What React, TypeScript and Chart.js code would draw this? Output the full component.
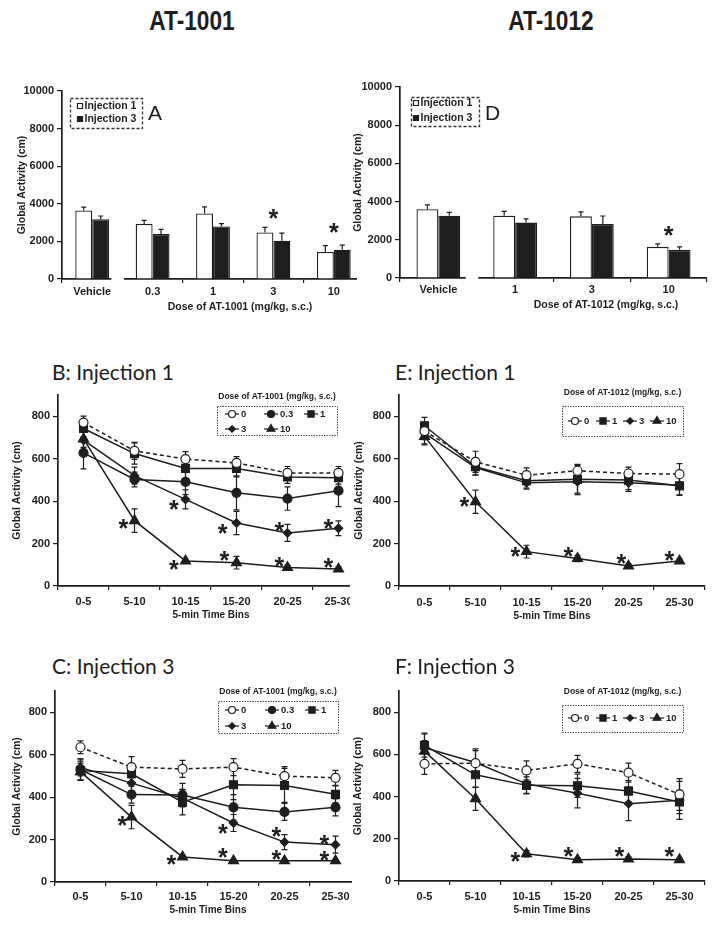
import React, { useEffect, useRef } from 'react';
import { Chart, registerables } from 'chart.js';

Chart.register(...registerables);

const FONT = "'Liberation Sans', Arial, Helvetica, sans-serif";
const INK = '#1e1e1e';

// ---------------- data ----------------
const doses1001 = ['Vehicle', '0.3', '1', '3', '10'];
const doses1012 = ['Vehicle', '1', '3', '10'];
const timeBins = ['0-5', '5-10', '10-15', '15-20', '20-25', '25-30'];
const barYTicks = [0, 2000, 4000, 6000, 8000, 10000];
const lineYTicks = [0, 200, 400, 600, 800];

// Panel A (AT-1001 total activity)
const aInj1 = [3650, 2930, 3490, 2470, 1440];
const aInj1Err = [175, 190, 350, 280, 330];
const aInj3 = [3175, 2390, 2790, 2035, 1560];
const aInj3Err = [175, 245, 160, 400, 245];
const aStars = [[3, 3550, 0], [4, 2800, 0]];

// Panel D (AT-1012 total activity)
const dInj1 = [3600, 3263, 3228, 1630];
const dInj1Err = [225, 230, 230, 160];
const dInj3 = [3263, 2900, 2825, 1474];
const dInj3Err = [175, 200, 420, 160];
const dStars = [[3, 2560, 0]];

// Panel B (AT-1001, injection 1)
const b0 = [770, 637, 598, 580, 533, 533];
const b0Err = [30, 40, 35, 30, 30, 30];
const b03 = [627, 502, 491, 439, 412, 449];
const b03Err = [75, 35, 60, 80, 55, 75];
const b1 = [742, 624, 554, 554, 514, 510];
const b1Err = [40, 50, 50, 40, 30, 30];
const b3 = [687, 520, 408, 297, 250, 272];
const b3Err = [50, 40, 45, 55, 40, 35];
const b10 = [693, 308, 118, 110, 87, 80];
const b10Err = [40, 55, 10, 30, 10, 10];
const bStars = [[2, 389, -0.23], [1, 298, -0.22], [3, 276, -0.27], [4, 287, -0.16], [5, 298, -0.2],
  [2, 107, -0.23], [3, 149, -0.24], [4, 122, -0.16], [5, 115, -0.2]];

// Panel C (AT-1001, injection 3)
const c0 = [635, 541, 533, 541, 499, 491];
const c0Err = [30, 50, 40, 40, 45, 35];
const c03 = [530, 412, 410, 352, 330, 352];
const c03Err = [50, 40, 55, 60, 40, 40];
const c1 = [525, 510, 376, 458, 455, 413];
const c1Err = [45, 45, 60, 70, 80, 40];
const c3 = [540, 466, 395, 278, 188, 176];
const c3Err = [40, 35, 40, 40, 35, 40];
const c10 = [520, 306, 118, 100, 100, 100];
const c10Err = [40, 55, 10, 5, 5, 5];
const cStars = [[1, 293, -0.18], [2, 113, -0.22], [3, 146, -0.21], [4, 136, -0.16], [5, 130, -0.22],
  [3, 259, -0.21], [4, 243, -0.16], [5, 204, -0.22]];

// Panel E (AT-1012, injection 1)
const e0 = [730, 585, 522, 543, 530, 527];
const e0Err = [40, 50, 35, 30, 30, 50];
const e1 = [755, 562, 496, 503, 499, 472];
const e1Err = [40, 40, 35, 65, 45, 45];
const e3 = [720, 558, 486, 491, 486, 475];
const e3Err = [50, 35, 30, 60, 40, 45];
const e10 = [705, 397, 162, 130, 94, 118];
const e10Err = [40, 55, 30, 15, 10, 10];
const eStars = [[1, 402, -0.22], [2, 169, -0.22], [3, 169, -0.18], [4, 133, -0.14], [5, 150, -0.2]];

// Panel F (AT-1012, injection 3)
const f0 = [555, 558, 524, 555, 513, 410];
const f0Err = [50, 60, 45, 40, 45, 75];
const f1 = [642, 503, 453, 451, 426, 374];
const f1Err = [55, 60, 40, 55, 50, 55];
const f3 = [631, 561, 460, 416, 366, 382];
const f3Err = [70, 65, 45, 70, 80, 90];
const f10 = [615, 390, 129, 101, 104, 101];
const f10Err = [50, 55, 15, 10, 10, 8];
const fStars = [[2, 121, -0.22], [3, 145, -0.18], [4, 145, -0.18], [5, 145, -0.2]];

// ---------------- styles ----------------
const STYLE: Record<string, any> = {
  '0': { ps: 'circle', r: 4.5, fill: '#ffffff', dash: [4, 3] },
  '0.3': { ps: 'circle', r: 4.5, fill: INK },
  '1': { ps: 'rect', r: 5.6, fill: INK },
  '3': { ps: 'rectRot', r: 4.2, fill: INK },
  '10': { ps: 'triangle', r: 5.8, fill: INK },
};

function lineDataset(label: string, data: number[], errors: number[]) {
  const st = STYLE[label];
  return {
    label, data, errors,
    borderColor: INK, borderWidth: 1.5, borderDash: st.dash || [],
    pointStyle: st.ps, pointRadius: st.r, pointHoverRadius: st.r,
    pointBackgroundColor: st.fill, pointBorderColor: INK, pointBorderWidth: 1.2,
    tension: 0, fill: false,
  };
}

function drawMarker(ctx: CanvasRenderingContext2D, ps: string, x: number, y: number, r: number, fill: string) {
  ctx.beginPath();
  if (ps === 'circle') ctx.arc(x, y, r, 0, Math.PI * 2);
  else if (ps === 'rect') { const s = r * Math.SQRT1_2; ctx.rect(x - s, y - s, 2 * s, 2 * s); }
  else if (ps === 'rectRot') { ctx.moveTo(x, y - r); ctx.lineTo(x + r, y); ctx.lineTo(x, y + r); ctx.lineTo(x - r, y); ctx.closePath(); }
  else if (ps === 'triangle') {
    ctx.moveTo(x, y - r);
    ctx.lineTo(x + r * Math.sin(2 * Math.PI / 3), y - r * Math.cos(2 * Math.PI / 3));
    ctx.lineTo(x + r * Math.sin(4 * Math.PI / 3), y - r * Math.cos(4 * Math.PI / 3));
    ctx.closePath();
  }
  ctx.fillStyle = fill;
  ctx.fill();
  ctx.stroke();
}

// ---------------- plugins ----------------
function drawErrors(chart: any) {
  const ctx = chart.ctx;
  const ys = chart.scales.y;
  chart.data.datasets.forEach((ds: any, di: number) => {
    if (!ds.errors) return;
    const meta = chart.getDatasetMeta(di);
    ctx.save();
    ctx.strokeStyle = INK;
    ctx.lineWidth = 1.2;
    ctx.setLineDash([]);
    const cap = ds.upOnly ? 2.5 : 3;
    meta.data.forEach((el: any, i: number) => {
      const v = ds.data[i];
      const e = ds.errors[i];
      const x = el.x;
      const yT = ys.getPixelForValue(v + e);
      const yB = ds.upOnly ? ys.getPixelForValue(v) : ys.getPixelForValue(v - e);
      ctx.beginPath();
      ctx.moveTo(x, yT); ctx.lineTo(x, yB);
      ctx.moveTo(x - cap, yT); ctx.lineTo(x + cap, yT);
      if (!ds.upOnly) { ctx.moveTo(x - cap, yB); ctx.lineTo(x + cap, yB); }
      ctx.stroke();
    });
    ctx.restore();
  });
}

const errorBarPlugin = {
  id: 'errorBars',
  beforeDatasetsDraw(chart: any) { if (chart.config.type === 'line') drawErrors(chart); },
  afterDatasetsDraw(chart: any) { if (chart.config.type === 'bar') drawErrors(chart); },
};

const starPlugin = {
  id: 'stars',
  afterDatasetsDraw(chart: any, _a: any, opts: any) {
    if (!opts || !opts.items) return;
    const ctx = chart.ctx;
    const xs = chart.scales.x; const ys = chart.scales.y;
    const cw = xs.width / chart.data.labels.length;
    const size = opts.size || 20;
    ctx.save();
    ctx.fillStyle = INK;
    ctx.font = `bold ${size}px ${FONT}`;
    ctx.textAlign = 'center';
    ctx.textBaseline = 'alphabetic';
    opts.items.forEach((s: number[]) => {
      const x = xs.getPixelForValue(s[0]) + s[2] * cw;
      const y = ys.getPixelForValue(s[1]);
      ctx.fillText('*', x, y + 0.58 * size);
    });
    ctx.restore();
  },
};

const legendPlugin = {
  id: 'panelLegend',
  afterDraw(chart: any, _a: any, opts: any) {
    if (!opts || !opts.box) return;
    const ctx = chart.ctx;
    const [ox, oy] = opts.origin;
    const [x1, y1, x2, y2] = opts.box;
    ctx.save();
    ctx.strokeStyle = '#333';
    ctx.lineWidth = opts.boxWidth || 1;
    ctx.setLineDash(opts.boxDash || [1.5, 1.5]);
    ctx.strokeRect(Math.round(x1 - ox) + 0.5, Math.round(y1 - oy) + 0.5, x2 - x1, y2 - y1);
    ctx.setLineDash([]);
    ctx.fillStyle = INK;
    if (opts.title) {
      ctx.font = `bold ${opts.titleSize}px ${FONT}`;
      ctx.textAlign = 'center';
      ctx.textBaseline = 'middle';
      ctx.fillText(opts.title, (x1 + x2) / 2 - ox, opts.titleY - oy);
    }
    ctx.font = `bold ${opts.itemSize}px ${FONT}`;
    ctx.textAlign = 'left';
    ctx.textBaseline = 'middle';
    chart.data.datasets.forEach((ds: any, i: number) => {
      const pos = opts.items[i];
      if (!pos) return;
      const x = pos[0] - ox; const y = pos[1] - oy;
      ctx.strokeStyle = INK;
      ctx.lineWidth = 1.2;
      if (opts.kind === 'bar') {
        ctx.beginPath();
        ctx.rect(x - 2.5, y - 2.5, 5, 5);
        ctx.fillStyle = ds.backgroundColor;
        ctx.fill(); ctx.stroke();
        ctx.fillStyle = INK;
        ctx.fillText(ds.label, x + 4.5, y + 0.5);
      } else {
        ctx.beginPath(); ctx.moveTo(x, y); ctx.lineTo(x + 14, y); ctx.stroke();
        drawMarker(ctx, ds.pointStyle, x + 7, y, ds.pointRadius * 0.78, ds.pointBackgroundColor);
        ctx.fillStyle = INK;
        ctx.fillText(ds.label, x + 16, y + 0.5);
      }
    });
    ctx.restore();
  },
};

const axisBreakPlugin = {
  id: 'axisBreak',
  afterDraw(chart: any, _a: any, opts: any) {
    if (!opts || !opts.on) return;
    const ctx = chart.ctx; const xs = chart.scales.x;
    const bx = (xs.getPixelForValue(0) + xs.getPixelForValue(1)) / 2;
    const yb = chart.chartArea.bottom;
    ctx.save();
    ctx.fillStyle = '#ffffff';
    ctx.fillRect(bx - 11, yb - 3, 12.5, 10);
    ctx.restore();
  },
};

// ---------------- config builder ----------------
type Geo = {
  wl: number; wt: number; ww: number; wh: number; cw: number; ch: number;
  pl: number; pt: number; pr: number; pb: number;
  xLabelY: number; yTitleX: number; xTitleY?: number;
};

function buildConfig(kind: 'bar' | 'line', g: Geo, labels: string[], datasets: any[], yMax: number,
  yTicks: number[], stars: number[][], legend: any, xTitle?: string) {
  const tickFont = { family: FONT, size: 11, weight: 'bold' as const };
  const padTop = g.pt - g.wt;
  const padRight = g.cw - (g.pr - g.wl);
  const yW = g.pl - g.wl;
  const xH = g.ch - (g.pb - g.wt);
  const xTickPad = Math.max(0, g.xLabelY - g.pb - 4 - 6.6);
  const yTitlePad = Math.max(0, g.yTitleX - g.wl - 6.3);
  const xTitlePad = g.xTitleY ? Math.max(0, g.ch - (g.xTitleY - g.wt) - 6) : 0;
  return {
    type: kind,
    data: { labels, datasets },
    options: {
      responsive: false,
      animation: false,
      events: [],
      layout: { padding: { left: 0, top: padTop, right: padRight, bottom: 0 } },
      plugins: {
        legend: { display: false },
        tooltip: { enabled: false },
        stars: { items: stars, size: 25 },
        panelLegend: legend,
        axisBreak: { on: kind === 'bar' },
      },
      scales: {
        x: {
          type: 'category',
          offset: true,
          grid: { display: true, offset: true, drawOnChartArea: false, drawTicks: true, tickLength: 4, color: INK, lineWidth: 1.2 },
          border: { display: true, color: INK, width: 1.7 },
          ticks: { font: tickFont, color: INK, padding: xTickPad, maxRotation: 0, autoSkip: false },
          title: xTitle ? { display: true, text: xTitle, color: INK, font: { family: FONT, size: 10, weight: 'bold' }, padding: { top: 0, bottom: xTitlePad } } : { display: false },
          afterFit: (s: any) => { s.height = xH; },
        },
        y: {
          min: 0, max: yMax,
          afterBuildTicks: (s: any) => { s.ticks = yTicks.map((v) => ({ value: v })); },
          grid: { display: true, drawOnChartArea: false, drawTicks: true, tickLength: 5, color: INK, lineWidth: 1.2 },
          border: { display: true, color: INK, width: 1.7 },
          ticks: { font: tickFont, color: INK, padding: 3, callback: (v: any) => String(v) },
          title: { display: true, text: 'Global Activity (cm)', color: INK, font: { family: FONT, size: 10.5, weight: 'bold' }, padding: { top: yTitlePad, bottom: 0 } },
          afterFit: (s: any) => { s.width = yW; },
        },
      },
    },
    plugins: [errorBarPlugin, starPlugin, legendPlugin, axisBreakPlugin],
  };
}

function barDatasets(inj1: number[], inj1Err: number[], inj3: number[], inj3Err: number[], catPct: number) {
  return [
    { label: 'Injection 1', data: inj1, errors: inj1Err, upOnly: true, backgroundColor: '#ffffff', borderColor: INK, borderWidth: 1.3, categoryPercentage: catPct, barPercentage: 1 },
    { label: 'Injection 3', data: inj3, errors: inj3Err, upOnly: true, backgroundColor: INK, borderColor: INK, borderWidth: 1.3, categoryPercentage: catPct, barPercentage: 1 },
  ];
}

// ---------------- geometry ----------------
const geoA: Geo = { wl: 0, wt: 75, ww: 357, wh: 245, cw: 380, ch: 245, pl: 62, pt: 91, pr: 364, pb: 279, xLabelY: 292, yTitleX: 22 };
const geoD: Geo = { wl: 350, wt: 75, ww: 364, wh: 245, cw: 364, ch: 245, pl: 400, pt: 87, pr: 707, pb: 278, xLabelY: 290, yTitleX: 358 };
const geoB: Geo = { wl: 0, wt: 385, ww: 350, wh: 240, cw: 380, ch: 240, pl: 58, pt: 395, pr: 364, pb: 586, xLabelY: 602, yTitleX: 17, xTitleY: 615 };
const geoE: Geo = { wl: 350, wt: 385, ww: 364, wh: 240, cw: 364, ch: 240, pl: 399, pt: 395, pr: 705, pb: 586, xLabelY: 603, yTitleX: 359, xTitleY: 616 };
const geoC: Geo = { wl: 0, wt: 680, ww: 352, wh: 246, cw: 380, ch: 246, pl: 55, pt: 691, pr: 361, pb: 882, xLabelY: 897, yTitleX: 17, xTitleY: 910 };
const geoF: Geo = { wl: 350, wt: 680, ww: 364, wh: 246, cw: 364, ch: 246, pl: 399, pt: 691, pr: 705, pb: 881, xLabelY: 897, yTitleX: 358, xTitleY: 910 };

function lineLegend(g: Geo, title: string, box: number[], titleY: number, items: number[][]) {
  return { origin: [g.wl, g.wt], title, titleY, box, items, titleSize: 8.5, itemSize: 9.5, boxDash: [1.3, 1.3], boxWidth: 1 };
}
function barLegend(g: Geo, box: number[], items: number[][]) {
  return { origin: [g.wl, g.wt], kind: 'bar', box, items, itemSize: 10.5, boxDash: [3, 2], boxWidth: 1.3 };
}

const configs = {
  A: () => buildConfig('bar', geoA, doses1001, barDatasets(aInj1, aInj1Err, aInj3, aInj3Err, 0.56), 10000, barYTicks, aStars,
    barLegend(geoA, [70, 98, 142, 128], [[80, 106], [80, 119]])),
  D: () => buildConfig('bar', geoD, doses1012, barDatasets(dInj1, dInj1Err, dInj3, dInj3Err, 0.57), 10000, barYTicks, dStars,
    barLegend(geoD, [411, 97, 479, 126], [[416, 103], [416, 118]])),
  B: () => buildConfig('line', geoB, timeBins, [
    lineDataset('0', b0, b0Err), lineDataset('0.3', b03, b03Err), lineDataset('1', b1, b1Err),
    lineDataset('3', b3, b3Err), lineDataset('10', b10, b10Err)], 900, lineYTicks, bStars,
    lineLegend(geoB, 'Dose of AT-1001 (mg/kg, s.c.)', [217, 406, 337, 435], 397,
      [[225, 414], [264, 414], [304, 414], [225, 429], [264, 429]]), '5-min Time Bins'),
  C: () => buildConfig('line', geoC, timeBins, [
    lineDataset('0', c0, c0Err), lineDataset('0.3', c03, c03Err), lineDataset('1', c1, c1Err),
    lineDataset('3', c3, c3Err), lineDataset('10', c10, c10Err)], 900, lineYTicks, cStars,
    lineLegend(geoC, 'Dose of AT-1001 (mg/kg, s.c.)', [218, 701, 338, 733], 692,
      [[225, 710], [265, 710], [305, 710], [225, 726], [265, 726]]), '5-min Time Bins'),
  E: () => buildConfig('line', geoE, timeBins, [
    lineDataset('0', e0, e0Err), lineDataset('1', e1, e1Err), lineDataset('3', e3, e3Err),
    lineDataset('10', e10, e10Err)], 900, lineYTicks, eStars,
    lineLegend(geoE, 'Dose of AT-1012 (mg/kg, s.c.)', [562, 406, 683, 436], 393,
      [[568, 421], [596, 421], [623, 421], [650, 421]]), '5-min Time Bins'),
  F: () => buildConfig('line', geoF, timeBins, [
    lineDataset('0', f0, f0Err), lineDataset('1', f1, f1Err), lineDataset('3', f3, f3Err),
    lineDataset('10', f10, f10Err)], 900, lineYTicks, fStars,
    lineLegend(geoF, 'Dose of AT-1012 (mg/kg, s.c.)', [562, 705, 683, 732], 692,
      [[568, 718], [596, 718], [623, 718], [650, 718]]), '5-min Time Bins'),
};

function ChartPanel({ g, make }: { g: Geo; make: () => any }) {
  const ref = useRef<HTMLCanvasElement | null>(null);
  useEffect(() => {
    if (!ref.current) return;
    const chart = new Chart(ref.current, make());
    return () => chart.destroy();
  }, []);
  return (
    <div style={{ position: 'absolute', left: g.wl, top: g.wt, width: g.ww, height: g.wh, overflow: 'hidden' }}>
      <canvas ref={ref} width={g.cw} height={g.ch} style={{ display: 'block', width: g.cw, height: g.ch }} />
    </div>
  );
}

function Txt({ left, top, width, align, font, extra, children }: any) {
  return (
    <div style={{ position: 'absolute', left, top, width, textAlign: align || 'left', font, lineHeight: 1, whiteSpace: 'nowrap', color: INK, ...(extra || {}) }}>
      {children}
    </div>
  );
}

const topTitleStyle = { transform: 'scaleX(0.84)', transformOrigin: 'center' };

export default function App() {
  return (
    <div style={{ position: 'absolute', left: 0, top: 0, width: 714, height: 926, background: '#fff', overflow: 'hidden' }}>
      <Txt left={92} top={8} width={200} align="center" font={`bold 27px ${FONT}`} extra={topTitleStyle}>AT-1001</Txt>
      <Txt left={451} top={8} width={200} align="center" font={`bold 27px ${FONT}`} extra={topTitleStyle}>AT-1012</Txt>

      <ChartPanel g={geoA} make={configs.A} />
      <ChartPanel g={geoD} make={configs.D} />
      <ChartPanel g={geoB} make={configs.B} />
      <ChartPanel g={geoE} make={configs.E} />
      <ChartPanel g={geoC} make={configs.C} />
      <ChartPanel g={geoF} make={configs.F} />

      <Txt left={148} top={102} font={`21px ${FONT}`}>A</Txt>
      <Txt left={485} top={102} font={`21px ${FONT}`}>D</Txt>
      <Txt left={140} top={301} width={200} align="center" font={`bold 10.5px ${FONT}`}>Dose of AT-1001 (mg/kg, s.c.)</Txt>
      <Txt left={506} top={299} width={200} align="center" font={`bold 10.5px ${FONT}`}>Dose of AT-1012 (mg/kg, s.c.)</Txt>

      <Txt left={52} top={361} font="21px Lato, 'Noto Sans', sans-serif">B: Injection 1</Txt>
      <Txt left={395} top={361} font="21px Lato, 'Noto Sans', sans-serif">E: Injection 1</Txt>
      <Txt left={52} top={655} font="21px Lato, 'Noto Sans', sans-serif">C: Injection 3</Txt>
      <Txt left={395} top={655} font="21px Lato, 'Noto Sans', sans-serif">F: Injection 3</Txt>
    </div>
  );
}
